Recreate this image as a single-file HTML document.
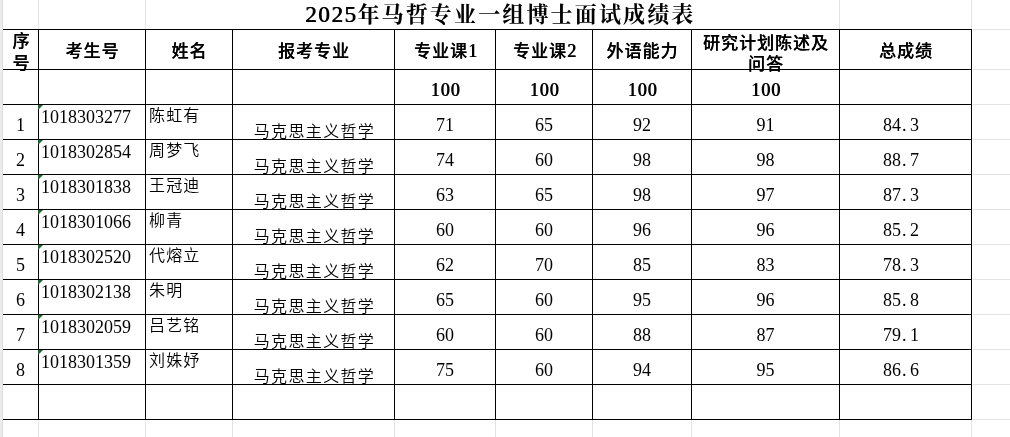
<!DOCTYPE html>
<html><head><meta charset="utf-8"><title>2025年马哲专业一组博士面试成绩表</title>
<style>
html,body{margin:0;padding:0;background:#fff;}
body{width:1010px;height:437px;position:relative;overflow:hidden;color:#000;}
i{position:absolute;display:block;}
.t{position:absolute;white-space:nowrap;}
.hd{font-family:'Liberation Serif',serif;font-size:18px;letter-spacing:0;font-weight:400;text-shadow:0.8px 0 0 #000;}
.dot{display:inline-block;width:9px;text-align:left;padding-left:1px;box-sizing:border-box;}
b{position:absolute;width:0;height:0;border-top:5px solid #1d662d;border-right:5px solid transparent;}
</style></head><body>
<i style="left:0px;top:0px;width:2px;height:437px;background:#ececec"></i>
<i style="left:2px;top:0px;width:1px;height:437px;background:#dedede"></i>
<i style="left:38px;top:0px;width:1px;height:29px;background:#e3e3e3"></i>
<i style="left:145px;top:0px;width:1px;height:29px;background:#e3e3e3"></i>
<i style="left:839px;top:0px;width:1px;height:29px;background:#e3e3e3"></i>
<i style="left:971px;top:0px;width:1px;height:29px;background:#e3e3e3"></i>
<i style="left:973px;top:29px;width:37px;height:1px;background:#e3e3e3"></i>
<i style="left:973px;top:69px;width:37px;height:1px;background:#e3e3e3"></i>
<i style="left:973px;top:104px;width:37px;height:1px;background:#e3e3e3"></i>
<i style="left:973px;top:139px;width:37px;height:1px;background:#e3e3e3"></i>
<i style="left:973px;top:174px;width:37px;height:1px;background:#e3e3e3"></i>
<i style="left:973px;top:209px;width:37px;height:1px;background:#e3e3e3"></i>
<i style="left:973px;top:244px;width:37px;height:1px;background:#e3e3e3"></i>
<i style="left:973px;top:279px;width:37px;height:1px;background:#e3e3e3"></i>
<i style="left:973px;top:314px;width:37px;height:1px;background:#e3e3e3"></i>
<i style="left:973px;top:349px;width:37px;height:1px;background:#e3e3e3"></i>
<i style="left:973px;top:384px;width:37px;height:1px;background:#e3e3e3"></i>
<i style="left:973px;top:419px;width:37px;height:1px;background:#e3e3e3"></i>
<i style="left:38px;top:420px;width:1px;height:17px;background:#e3e3e3"></i>
<i style="left:145px;top:420px;width:1px;height:17px;background:#e3e3e3"></i>
<i style="left:232px;top:420px;width:1px;height:17px;background:#e3e3e3"></i>
<i style="left:394px;top:420px;width:1px;height:17px;background:#e3e3e3"></i>
<i style="left:495px;top:420px;width:1px;height:17px;background:#e3e3e3"></i>
<i style="left:592px;top:420px;width:1px;height:17px;background:#e3e3e3"></i>
<i style="left:691px;top:420px;width:1px;height:17px;background:#e3e3e3"></i>
<i style="left:839px;top:420px;width:1px;height:17px;background:#e3e3e3"></i>
<i style="left:971px;top:420px;width:1px;height:17px;background:#e3e3e3"></i>
<i style="left:3px;top:29px;width:969px;height:1px;background:#000"></i>
<i style="left:3px;top:69px;width:969px;height:1px;background:#000"></i>
<i style="left:3px;top:104px;width:969px;height:1px;background:#000"></i>
<i style="left:3px;top:139px;width:969px;height:1px;background:#000"></i>
<i style="left:3px;top:174px;width:969px;height:1px;background:#000"></i>
<i style="left:3px;top:209px;width:969px;height:1px;background:#000"></i>
<i style="left:3px;top:244px;width:969px;height:1px;background:#000"></i>
<i style="left:3px;top:279px;width:969px;height:1px;background:#000"></i>
<i style="left:3px;top:314px;width:969px;height:1px;background:#000"></i>
<i style="left:3px;top:349px;width:969px;height:1px;background:#000"></i>
<i style="left:3px;top:384px;width:969px;height:1px;background:#000"></i>
<i style="left:3px;top:419px;width:969px;height:1px;background:#000"></i>
<i style="left:38px;top:29px;width:1px;height:391px;background:#000"></i>
<i style="left:145px;top:29px;width:1px;height:391px;background:#000"></i>
<i style="left:232px;top:29px;width:1px;height:391px;background:#000"></i>
<i style="left:394px;top:29px;width:1px;height:391px;background:#000"></i>
<i style="left:495px;top:29px;width:1px;height:391px;background:#000"></i>
<i style="left:592px;top:29px;width:1px;height:391px;background:#000"></i>
<i style="left:691px;top:29px;width:1px;height:391px;background:#000"></i>
<i style="left:839px;top:29px;width:1px;height:391px;background:#000"></i>
<i style="left:971px;top:29px;width:1px;height:391px;background:#000"></i>
<div class="t" style="left:305px;top:2px;white-space:nowrap;font-weight:700;line-height:26px"><span style="font-family:'Liberation Serif',serif;font-size:23px;letter-spacing:1.6px;font-weight:400;text-shadow:0.7px 0 0 #000">2025</span><span style="font-family:'Liberation Serif','Noto Serif CJK SC',serif;font-size:22px;letter-spacing:2.15px">年马哲专业一组博士面试成绩表</span></div>
<div class="t" style="left:4px;top:33px;font-family:'Liberation Sans','Noto Sans CJK SC',sans-serif;font-weight:500;font-size:17px;line-height:17px;letter-spacing:1.0px;width:34px;text-align:center;text-indent:1px;text-shadow:0.35px 0 0 #000;">序</div>
<div class="t" style="left:4px;top:55px;font-family:'Liberation Sans','Noto Sans CJK SC',sans-serif;font-weight:500;font-size:17px;line-height:17px;letter-spacing:1.0px;width:34px;text-align:center;text-indent:1px;text-shadow:0.35px 0 0 #000;">号</div>
<div class="t" style="left:39px;top:43px;font-family:'Liberation Sans','Noto Sans CJK SC',sans-serif;font-weight:500;font-size:17px;line-height:17px;letter-spacing:1.0px;width:106px;text-align:center;text-indent:1px;text-shadow:0.35px 0 0 #000;">考生号</div>
<div class="t" style="left:146px;top:43px;font-family:'Liberation Sans','Noto Sans CJK SC',sans-serif;font-weight:500;font-size:17px;line-height:17px;letter-spacing:1.0px;width:86px;text-align:center;text-indent:1px;text-shadow:0.35px 0 0 #000;">姓名</div>
<div class="t" style="left:233px;top:43px;font-family:'Liberation Sans','Noto Sans CJK SC',sans-serif;font-weight:500;font-size:17px;line-height:17px;letter-spacing:1.0px;width:161px;text-align:center;text-indent:1px;text-shadow:0.35px 0 0 #000;">报考专业</div>
<div class="t" style="left:395px;top:43px;font-family:'Liberation Sans','Noto Sans CJK SC',sans-serif;font-weight:500;font-size:17px;line-height:17px;letter-spacing:1.0px;width:100px;text-align:center;text-indent:1px;text-shadow:0.35px 0 0 #000;">专业课<span class="hd">1</span></div>
<div class="t" style="left:496px;top:43px;font-family:'Liberation Sans','Noto Sans CJK SC',sans-serif;font-weight:500;font-size:17px;line-height:17px;letter-spacing:1.0px;width:96px;text-align:center;text-indent:1px;text-shadow:0.35px 0 0 #000;">专业课<span class="hd">2</span></div>
<div class="t" style="left:593px;top:43px;font-family:'Liberation Sans','Noto Sans CJK SC',sans-serif;font-weight:500;font-size:17px;line-height:17px;letter-spacing:1.0px;width:98px;text-align:center;text-indent:1px;text-shadow:0.35px 0 0 #000;">外语能力</div>
<div class="t" style="left:692px;top:35px;font-family:'Liberation Sans','Noto Sans CJK SC',sans-serif;font-weight:500;font-size:17px;line-height:17px;letter-spacing:1.0px;width:147px;text-align:center;text-indent:1px;text-shadow:0.35px 0 0 #000;">研究计划陈述及</div>
<div class="t" style="left:692px;top:56px;font-family:'Liberation Sans','Noto Sans CJK SC',sans-serif;font-weight:500;font-size:17px;line-height:17px;letter-spacing:1.0px;width:147px;text-align:center;text-indent:1px;text-shadow:0.35px 0 0 #000;">问答</div>
<div class="t" style="left:840px;top:43px;font-family:'Liberation Sans','Noto Sans CJK SC',sans-serif;font-weight:500;font-size:17px;line-height:17px;letter-spacing:1.0px;width:131px;text-align:center;text-indent:1px;text-shadow:0.35px 0 0 #000;">总成绩</div>
<div class="t" style="left:395px;top:81px;font-family:'Liberation Serif',serif;font-weight:400;font-size:18px;line-height:18px;letter-spacing:1.0px;width:100px;text-align:center;text-shadow:0.8px 0 0 #000;text-indent:1px;">100</div>
<div class="t" style="left:496px;top:81px;font-family:'Liberation Serif',serif;font-weight:400;font-size:18px;line-height:18px;letter-spacing:1.0px;width:96px;text-align:center;text-shadow:0.8px 0 0 #000;text-indent:1px;">100</div>
<div class="t" style="left:593px;top:81px;font-family:'Liberation Serif',serif;font-weight:400;font-size:18px;line-height:18px;letter-spacing:1.0px;width:98px;text-align:center;text-shadow:0.8px 0 0 #000;text-indent:1px;">100</div>
<div class="t" style="left:692px;top:81px;font-family:'Liberation Serif',serif;font-weight:400;font-size:18px;line-height:18px;letter-spacing:1.0px;width:147px;text-align:center;text-shadow:0.8px 0 0 #000;text-indent:1px;">100</div>
<div class="t" style="left:3px;top:116px;font-family:'Liberation Serif',serif;font-weight:400;font-size:18px;line-height:18px;width:35px;text-align:center;">1</div>
<div class="t" style="left:41px;top:108px;font-family:'Liberation Serif',serif;font-weight:400;font-size:18px;line-height:18px;">1018303277</div>
<b style="left:38px;top:105px"></b>
<div class="t" style="left:149px;top:108px;font-family:'Liberation Sans','Noto Sans CJK SC',sans-serif;font-weight:350;font-size:16px;line-height:16px;letter-spacing:1.15px;">陈虹有</div>
<div class="t" style="left:234px;top:124px;font-family:'Liberation Sans','Noto Sans CJK SC',sans-serif;font-weight:350;font-size:16px;line-height:16px;letter-spacing:1.35px;width:161px;text-align:center;">马克思主义哲学</div>
<div class="t" style="left:395px;top:116px;font-family:'Liberation Serif',serif;font-weight:400;font-size:18px;line-height:18px;width:100px;text-align:center;">71</div>
<div class="t" style="left:496px;top:116px;font-family:'Liberation Serif',serif;font-weight:400;font-size:18px;line-height:18px;width:96px;text-align:center;">65</div>
<div class="t" style="left:593px;top:116px;font-family:'Liberation Serif',serif;font-weight:400;font-size:18px;line-height:18px;width:98px;text-align:center;">92</div>
<div class="t" style="left:692px;top:116px;font-family:'Liberation Serif',serif;font-weight:400;font-size:18px;line-height:18px;width:147px;text-align:center;">91</div>
<div class="t" style="left:840px;top:116px;font-family:'Liberation Serif',serif;font-weight:400;font-size:18px;line-height:18px;width:131px;text-align:center;padding-right:9px;box-sizing:border-box;">84<span class="dot">.</span>3</div>
<div class="t" style="left:3px;top:151px;font-family:'Liberation Serif',serif;font-weight:400;font-size:18px;line-height:18px;width:35px;text-align:center;">2</div>
<div class="t" style="left:41px;top:143px;font-family:'Liberation Serif',serif;font-weight:400;font-size:18px;line-height:18px;">1018302854</div>
<b style="left:38px;top:140px"></b>
<div class="t" style="left:149px;top:143px;font-family:'Liberation Sans','Noto Sans CJK SC',sans-serif;font-weight:350;font-size:16px;line-height:16px;letter-spacing:1.15px;">周梦飞</div>
<div class="t" style="left:234px;top:159px;font-family:'Liberation Sans','Noto Sans CJK SC',sans-serif;font-weight:350;font-size:16px;line-height:16px;letter-spacing:1.35px;width:161px;text-align:center;">马克思主义哲学</div>
<div class="t" style="left:395px;top:151px;font-family:'Liberation Serif',serif;font-weight:400;font-size:18px;line-height:18px;width:100px;text-align:center;">74</div>
<div class="t" style="left:496px;top:151px;font-family:'Liberation Serif',serif;font-weight:400;font-size:18px;line-height:18px;width:96px;text-align:center;">60</div>
<div class="t" style="left:593px;top:151px;font-family:'Liberation Serif',serif;font-weight:400;font-size:18px;line-height:18px;width:98px;text-align:center;">98</div>
<div class="t" style="left:692px;top:151px;font-family:'Liberation Serif',serif;font-weight:400;font-size:18px;line-height:18px;width:147px;text-align:center;">98</div>
<div class="t" style="left:840px;top:151px;font-family:'Liberation Serif',serif;font-weight:400;font-size:18px;line-height:18px;width:131px;text-align:center;padding-right:9px;box-sizing:border-box;">88<span class="dot">.</span>7</div>
<div class="t" style="left:3px;top:186px;font-family:'Liberation Serif',serif;font-weight:400;font-size:18px;line-height:18px;width:35px;text-align:center;">3</div>
<div class="t" style="left:41px;top:178px;font-family:'Liberation Serif',serif;font-weight:400;font-size:18px;line-height:18px;">1018301838</div>
<b style="left:38px;top:175px"></b>
<div class="t" style="left:149px;top:178px;font-family:'Liberation Sans','Noto Sans CJK SC',sans-serif;font-weight:350;font-size:16px;line-height:16px;letter-spacing:1.15px;">王冠迪</div>
<div class="t" style="left:234px;top:194px;font-family:'Liberation Sans','Noto Sans CJK SC',sans-serif;font-weight:350;font-size:16px;line-height:16px;letter-spacing:1.35px;width:161px;text-align:center;">马克思主义哲学</div>
<div class="t" style="left:395px;top:186px;font-family:'Liberation Serif',serif;font-weight:400;font-size:18px;line-height:18px;width:100px;text-align:center;">63</div>
<div class="t" style="left:496px;top:186px;font-family:'Liberation Serif',serif;font-weight:400;font-size:18px;line-height:18px;width:96px;text-align:center;">65</div>
<div class="t" style="left:593px;top:186px;font-family:'Liberation Serif',serif;font-weight:400;font-size:18px;line-height:18px;width:98px;text-align:center;">98</div>
<div class="t" style="left:692px;top:186px;font-family:'Liberation Serif',serif;font-weight:400;font-size:18px;line-height:18px;width:147px;text-align:center;">97</div>
<div class="t" style="left:840px;top:186px;font-family:'Liberation Serif',serif;font-weight:400;font-size:18px;line-height:18px;width:131px;text-align:center;padding-right:9px;box-sizing:border-box;">87<span class="dot">.</span>3</div>
<div class="t" style="left:3px;top:221px;font-family:'Liberation Serif',serif;font-weight:400;font-size:18px;line-height:18px;width:35px;text-align:center;">4</div>
<div class="t" style="left:41px;top:213px;font-family:'Liberation Serif',serif;font-weight:400;font-size:18px;line-height:18px;">1018301066</div>
<b style="left:38px;top:210px"></b>
<div class="t" style="left:149px;top:213px;font-family:'Liberation Sans','Noto Sans CJK SC',sans-serif;font-weight:350;font-size:16px;line-height:16px;letter-spacing:1.15px;">柳青</div>
<div class="t" style="left:234px;top:229px;font-family:'Liberation Sans','Noto Sans CJK SC',sans-serif;font-weight:350;font-size:16px;line-height:16px;letter-spacing:1.35px;width:161px;text-align:center;">马克思主义哲学</div>
<div class="t" style="left:395px;top:221px;font-family:'Liberation Serif',serif;font-weight:400;font-size:18px;line-height:18px;width:100px;text-align:center;">60</div>
<div class="t" style="left:496px;top:221px;font-family:'Liberation Serif',serif;font-weight:400;font-size:18px;line-height:18px;width:96px;text-align:center;">60</div>
<div class="t" style="left:593px;top:221px;font-family:'Liberation Serif',serif;font-weight:400;font-size:18px;line-height:18px;width:98px;text-align:center;">96</div>
<div class="t" style="left:692px;top:221px;font-family:'Liberation Serif',serif;font-weight:400;font-size:18px;line-height:18px;width:147px;text-align:center;">96</div>
<div class="t" style="left:840px;top:221px;font-family:'Liberation Serif',serif;font-weight:400;font-size:18px;line-height:18px;width:131px;text-align:center;padding-right:9px;box-sizing:border-box;">85<span class="dot">.</span>2</div>
<div class="t" style="left:3px;top:256px;font-family:'Liberation Serif',serif;font-weight:400;font-size:18px;line-height:18px;width:35px;text-align:center;">5</div>
<div class="t" style="left:41px;top:248px;font-family:'Liberation Serif',serif;font-weight:400;font-size:18px;line-height:18px;">1018302520</div>
<b style="left:38px;top:245px"></b>
<div class="t" style="left:149px;top:248px;font-family:'Liberation Sans','Noto Sans CJK SC',sans-serif;font-weight:350;font-size:16px;line-height:16px;letter-spacing:1.15px;">代熔立</div>
<div class="t" style="left:234px;top:264px;font-family:'Liberation Sans','Noto Sans CJK SC',sans-serif;font-weight:350;font-size:16px;line-height:16px;letter-spacing:1.35px;width:161px;text-align:center;">马克思主义哲学</div>
<div class="t" style="left:395px;top:256px;font-family:'Liberation Serif',serif;font-weight:400;font-size:18px;line-height:18px;width:100px;text-align:center;">62</div>
<div class="t" style="left:496px;top:256px;font-family:'Liberation Serif',serif;font-weight:400;font-size:18px;line-height:18px;width:96px;text-align:center;">70</div>
<div class="t" style="left:593px;top:256px;font-family:'Liberation Serif',serif;font-weight:400;font-size:18px;line-height:18px;width:98px;text-align:center;">85</div>
<div class="t" style="left:692px;top:256px;font-family:'Liberation Serif',serif;font-weight:400;font-size:18px;line-height:18px;width:147px;text-align:center;">83</div>
<div class="t" style="left:840px;top:256px;font-family:'Liberation Serif',serif;font-weight:400;font-size:18px;line-height:18px;width:131px;text-align:center;padding-right:9px;box-sizing:border-box;">78<span class="dot">.</span>3</div>
<div class="t" style="left:3px;top:291px;font-family:'Liberation Serif',serif;font-weight:400;font-size:18px;line-height:18px;width:35px;text-align:center;">6</div>
<div class="t" style="left:41px;top:283px;font-family:'Liberation Serif',serif;font-weight:400;font-size:18px;line-height:18px;">1018302138</div>
<b style="left:38px;top:280px"></b>
<div class="t" style="left:149px;top:283px;font-family:'Liberation Sans','Noto Sans CJK SC',sans-serif;font-weight:350;font-size:16px;line-height:16px;letter-spacing:1.15px;">朱明</div>
<div class="t" style="left:234px;top:299px;font-family:'Liberation Sans','Noto Sans CJK SC',sans-serif;font-weight:350;font-size:16px;line-height:16px;letter-spacing:1.35px;width:161px;text-align:center;">马克思主义哲学</div>
<div class="t" style="left:395px;top:291px;font-family:'Liberation Serif',serif;font-weight:400;font-size:18px;line-height:18px;width:100px;text-align:center;">65</div>
<div class="t" style="left:496px;top:291px;font-family:'Liberation Serif',serif;font-weight:400;font-size:18px;line-height:18px;width:96px;text-align:center;">60</div>
<div class="t" style="left:593px;top:291px;font-family:'Liberation Serif',serif;font-weight:400;font-size:18px;line-height:18px;width:98px;text-align:center;">95</div>
<div class="t" style="left:692px;top:291px;font-family:'Liberation Serif',serif;font-weight:400;font-size:18px;line-height:18px;width:147px;text-align:center;">96</div>
<div class="t" style="left:840px;top:291px;font-family:'Liberation Serif',serif;font-weight:400;font-size:18px;line-height:18px;width:131px;text-align:center;padding-right:9px;box-sizing:border-box;">85<span class="dot">.</span>8</div>
<div class="t" style="left:3px;top:326px;font-family:'Liberation Serif',serif;font-weight:400;font-size:18px;line-height:18px;width:35px;text-align:center;">7</div>
<div class="t" style="left:41px;top:318px;font-family:'Liberation Serif',serif;font-weight:400;font-size:18px;line-height:18px;">1018302059</div>
<b style="left:38px;top:315px"></b>
<div class="t" style="left:149px;top:318px;font-family:'Liberation Sans','Noto Sans CJK SC',sans-serif;font-weight:350;font-size:16px;line-height:16px;letter-spacing:1.15px;">吕艺铭</div>
<div class="t" style="left:234px;top:334px;font-family:'Liberation Sans','Noto Sans CJK SC',sans-serif;font-weight:350;font-size:16px;line-height:16px;letter-spacing:1.35px;width:161px;text-align:center;">马克思主义哲学</div>
<div class="t" style="left:395px;top:326px;font-family:'Liberation Serif',serif;font-weight:400;font-size:18px;line-height:18px;width:100px;text-align:center;">60</div>
<div class="t" style="left:496px;top:326px;font-family:'Liberation Serif',serif;font-weight:400;font-size:18px;line-height:18px;width:96px;text-align:center;">60</div>
<div class="t" style="left:593px;top:326px;font-family:'Liberation Serif',serif;font-weight:400;font-size:18px;line-height:18px;width:98px;text-align:center;">88</div>
<div class="t" style="left:692px;top:326px;font-family:'Liberation Serif',serif;font-weight:400;font-size:18px;line-height:18px;width:147px;text-align:center;">87</div>
<div class="t" style="left:840px;top:326px;font-family:'Liberation Serif',serif;font-weight:400;font-size:18px;line-height:18px;width:131px;text-align:center;padding-right:9px;box-sizing:border-box;">79<span class="dot">.</span>1</div>
<div class="t" style="left:3px;top:361px;font-family:'Liberation Serif',serif;font-weight:400;font-size:18px;line-height:18px;width:35px;text-align:center;">8</div>
<div class="t" style="left:41px;top:353px;font-family:'Liberation Serif',serif;font-weight:400;font-size:18px;line-height:18px;">1018301359</div>
<b style="left:38px;top:350px"></b>
<div class="t" style="left:149px;top:353px;font-family:'Liberation Sans','Noto Sans CJK SC',sans-serif;font-weight:350;font-size:16px;line-height:16px;letter-spacing:1.15px;">刘姝妤</div>
<div class="t" style="left:234px;top:369px;font-family:'Liberation Sans','Noto Sans CJK SC',sans-serif;font-weight:350;font-size:16px;line-height:16px;letter-spacing:1.35px;width:161px;text-align:center;">马克思主义哲学</div>
<div class="t" style="left:395px;top:361px;font-family:'Liberation Serif',serif;font-weight:400;font-size:18px;line-height:18px;width:100px;text-align:center;">75</div>
<div class="t" style="left:496px;top:361px;font-family:'Liberation Serif',serif;font-weight:400;font-size:18px;line-height:18px;width:96px;text-align:center;">60</div>
<div class="t" style="left:593px;top:361px;font-family:'Liberation Serif',serif;font-weight:400;font-size:18px;line-height:18px;width:98px;text-align:center;">94</div>
<div class="t" style="left:692px;top:361px;font-family:'Liberation Serif',serif;font-weight:400;font-size:18px;line-height:18px;width:147px;text-align:center;">95</div>
<div class="t" style="left:840px;top:361px;font-family:'Liberation Serif',serif;font-weight:400;font-size:18px;line-height:18px;width:131px;text-align:center;padding-right:9px;box-sizing:border-box;">86<span class="dot">.</span>6</div>
</body></html>
